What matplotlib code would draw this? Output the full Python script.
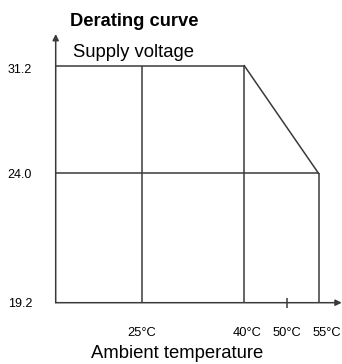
import numpy as np
import matplotlib
matplotlib.use('Agg')
import matplotlib.pyplot as plt
from matplotlib.transforms import ScaledTranslation

plt.rcParams['font.family'] = ['Liberation Sans', 'DejaVu Sans']

# data
volt_ticks = [19.2, 24.0, 31.2]
volt_labels = ['19.2', '24.0', '31.2']
temp_ticks = [25, 40, 50, 55]
temp_labels = ['25°C', '40°C', '50°C', '55°C']
curve_t = [40, 55]
curve_v = [31.2, 24.0]
grid_t = [25, 40, 55]
grid_top = [31.2, 31.2, 24.0]
level_v = [31.2, 24.0]
level_end = [40, 55]

W, H = 342, 364
LC = '#3a3a3a'

# the drawing is not to scale, so axes use piecewise mappings
tk = [12, 25, 40, 50, 55, 59]
tp = [55.7, 142, 244.3, 287.3, 318.5, 341.7]
vk = [19.2, 24.0, 31.2, 33.3]
vp = [61.3, 190.7, 298.3, 330]

def fx(t):
    return np.interp(t, tk, tp)
def ifx(p):
    return np.interp(p, tp, tk)
def fy(v):
    return np.interp(v, vk, vp)
def ify(p):
    return np.interp(p, vp, vk)

fig = plt.figure(figsize=(W / 100, H / 100), dpi=100)
ax = fig.add_axes([55.7 / W, 61.3 / H, (341.7 - 55.7) / W, (330 - 61.3) / H])
ax.set_xscale('function', functions=(fx, ifx))
ax.set_yscale('function', functions=(fy, ify))
ax.set_xlim(tk[0], tk[-1])
ax.set_ylim(vk[0], vk[-1])
for s in ax.spines.values():
    s.set_visible(False)
ax.patch.set_visible(False)

lw = 1.1
ax.plot(curve_t, curve_v, color=LC, lw=lw)
ax.hlines(level_v, tk[0], level_end, color=LC, lw=lw)
ax.vlines(grid_t, vk[0], grid_top, color=LC, lw=lw)

# axis arrows
arrow = dict(arrowstyle='-|>', color=LC, lw=lw, mutation_scale=9, shrinkA=0, shrinkB=0)
ax.annotate('', xy=(1, 0), xytext=(0, 0), xycoords='axes fraction', arrowprops=arrow, annotation_clip=False)
ax.annotate('', xy=(0, 1), xytext=(0, 0), xycoords='axes fraction', arrowprops=arrow, annotation_clip=False)

ax.set_yticks(volt_ticks)
ax.set_yticklabels(volt_labels, fontsize=9)
ax.tick_params(axis='y', length=0, pad=17)
# top label sits a little low in the original
ylabs = ax.get_yticklabels()
ylabs[2].set_transform(ylabs[2].get_transform() + ScaledTranslation(0, -3 / 100, fig.dpi_scale_trans))

ax.set_xticks(temp_ticks)
ax.set_xticklabels(temp_labels, fontsize=9.3)
ax.tick_params(axis='x', direction='inout', length=7.2, width=lw, color=LC, pad=14)
ax.xaxis.set_minor_locator(plt.NullLocator())
ax.yaxis.set_minor_locator(plt.NullLocator())
for i, t in enumerate(ax.xaxis.get_major_ticks()):
    if temp_ticks[i] != 50:
        t.tick1line.set_visible(False)
# nudge labels like the original
shifts = {40: 3, 55: 8}
for i, lab in enumerate(ax.get_xticklabels()):
    dx = shifts.get(temp_ticks[i], 0)
    if dx:
        lab.set_transform(lab.get_transform() + ScaledTranslation(dx / 100, 0, fig.dpi_scale_trans))

fig.text(70 / W, 1 - 26 / H, 'Derating curve', fontsize=13.2, fontweight='bold', ha='left', va='baseline')
fig.text(72.7 / W, 1 - 56.7 / H, 'Supply voltage', fontsize=13.3, ha='left', va='baseline')
fig.text(177 / W, 1 - 358 / H, 'Ambient temperature', fontsize=13.3, ha='center', va='baseline')

fig.savefig('out.png', dpi=100)
